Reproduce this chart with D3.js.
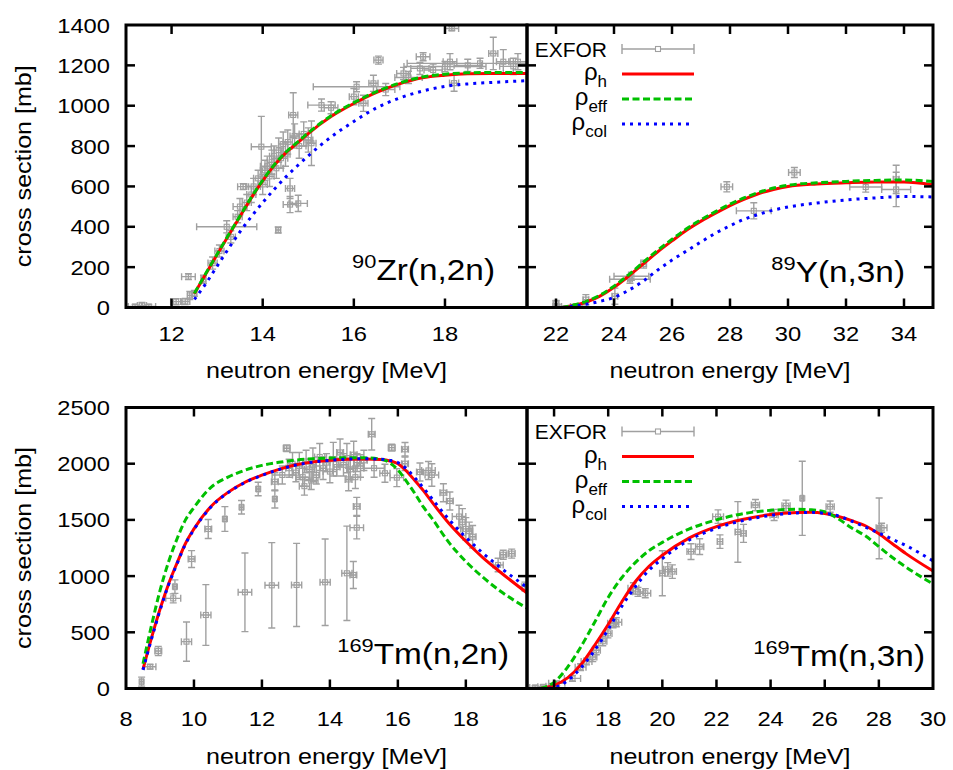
<!DOCTYPE html>
<html><head><meta charset="utf-8">
<script src="https://cdn.jsdelivr.net/npm/d3@7"></script>
<style>body{margin:0;background:#fff} text{font-family:"Liberation Sans",Arial,Helvetica,sans-serif;fill:#000}</style>
</head><body><svg id="c" width="953" height="770"></svg>
<script>
// ---------- DATA ----------
// 90Zr(n,2n)
const zrGrid   = [12.5,12.75,13.0,13.25,13.5,13.75,14.0,14.25,14.5,14.75,15.0,15.5,16.0,16.5,17.0,17.5,18.0,18.5,19.0,19.8];
const zrRhoH   = [68,166,262,357,450,543,627,703,765,813,862,946,1011,1066,1108,1138,1151,1158,1160,1160];
const zrRhoEff = [70,168,264,360,453,546,630,706,768,817,866,950,1015,1070,1112,1142,1156,1163,1165,1165];
const zrRhoCol = [40,118,205,292,375,450,520,585,645,700,752,845,922,990,1038,1072,1096,1108,1115,1124];
// EXFOR rows: [E, sigma, dE, dSigma]
const zrExfor = [
 [11.2,5,0.15,10],[11.5,5,0.15,10],[11.35,10,0.1,15],[12.1,29,0.12,15],[12.3,30,0.1,15],[12.4,60,0.05,20],
 [12.37,153,0.15,15],[12.5,70,0.05,15],[12.7,140,0.05,20],[12.9,220,0.1,30],[13.05,280,0.1,30],[13.21,400,0.66,30],
 [13.3,350,0.1,30],[13.45,450,0.1,30],[13.5,500,0.15,40],[13.57,599,0.12,15],[13.65,520,0.1,40],[13.75,560,0.1,40],
 [13.8,600,0.15,40],[13.97,797,0.22,150],[13.9,640,0.1,40],[14.0,610,0.1,50],[14.05,680,0.1,50],[14.1,700,0.15,50],
 [14.15,650,0.1,50],[14.2,720,0.1,60],[14.25,750,0.1,50],[14.3,690,0.15,50],[14.34,384,0.05,15],[14.35,780,0.1,60],
 [14.4,740,0.15,50],[14.45,810,0.1,60],[14.5,760,0.1,60],[14.55,820,0.1,60],[14.6,510,0.15,40],[14.6,590,0.1,50],
 [14.67,954,0.1,110],[14.7,850,0.1,60],[14.78,516,0.2,40],[14.8,800,0.15,60],[14.9,860,0.1,60],[15.0,830,0.1,60],
 [15.07,814,0.1,110],[15.29,1003,0.3,30],[15.5,990,0.15,30],[16.0,1045,0.1,40],[16.06,1094,0.95,25],[16.21,1012,0.1,40],
 [16.43,1111,0.1,40],[16.54,1226,0.1,20],[16.7,1080,0.2,30],[17.09,1160,0.15,30],[17.2,1140,0.3,30],[17.45,1185,0.2,30],
 [17.52,1243,0.15,20],[17.74,1177,0.2,30],[18.0,1194,0.9,25],[18.11,1218,0.15,40],[18.15,1383,0.15,10],[18.2,1112,0.1,40],
 [18.5,1200,0.3,30],[18.77,1210,1.6,25],[19.06,1259,0.1,80],[19.28,1218,0.15,60],[19.5,1195,0.3,40],[19.6,1218,0.2,40]
];
// 89Y(n,3n)
const yGrid   = [22.2,22.5,23,23.5,24,24.5,25,25.5,26,26.5,27,27.5,28,28.5,29,29.5,30,31,32,33,34,35];
const yRhoH   = [0,8,25,55,100,155,215,275,330,383,428,468,505,537,565,585,600,612,618,622,622,608];
const yRhoEff = [0,9,28,60,106,162,223,283,338,390,435,475,512,544,571,592,606,618,625,630,632,624];
const yRhoCol = [0,5,15,30,50,85,130,185,235,280,325,368,405,438,462,483,498,518,533,543,550,548];
const yExfor = [
 [22.0,20,0.1,15],[22.04,5,0.15,10],[22.7,5,0.2,10],[23.03,39,0.1,25],[24.03,56,0.1,40],[24.55,140,0.7,20],
 [24.6,155,0.6,20],[25.02,215,0.1,20],[27.89,598,0.2,25],[28.82,479,0.6,40],[30.22,669,0.2,25],[32.68,597,0.55,25],
 [33.73,585,0.5,85],[33.73,635,0.1,70]
];
// 169Tm(n,2n)
const tm2Grid   = [8.5,8.75,9.0,9.25,9.5,9.75,10.0,10.5,11.0,11.5,12.0,12.5,13.0,13.5,14.0,14.5,15.0,15.5,15.8,16.0,16.25,16.5,16.75,17.0,17.5,18.0,18.5,19.0,19.8];
const tm2RhoH   = [170,450,705,928,1115,1290,1420,1620,1745,1835,1898,1950,1990,2015,2030,2040,2042,2038,2022,2000,1935,1850,1760,1660,1470,1310,1165,1039,850];
const tm2RhoEff = [220,560,870,1125,1330,1500,1610,1790,1880,1942,1985,2012,2032,2045,2050,2053,2052,2040,2000,1945,1845,1735,1615,1515,1300,1130,990,870,714];
const tm2RhoCol = [165,440,695,920,1108,1285,1415,1615,1742,1832,1896,1948,1988,2014,2030,2040,2044,2040,2028,2010,1955,1875,1785,1690,1505,1345,1205,1080,900];
const tm2Exfor = [
 [8.46,61,0.05,40],[8.71,194,0.17,20],[8.95,334,0.1,40],[9.39,802,0.22,40],[9.44,906,0.05,60],[9.78,417,0.15,175],
 [9.93,1152,0.1,75],[10.35,654,0.15,270],[10.42,1419,0.1,85],[10.91,1508,0.05,110],[11.4,1612,0.05,60],[11.5,856,0.2,350],
 [11.89,1775,0.05,60],[12.29,918,0.2,380],[12.38,1840,0.1,80],[12.38,1686,0.05,80],[12.73,2137,0.1,30],[13.02,921,0.15,370],
 [13.86,945,0.15,385],[14.5,1025,0.15,420],[14.69,1010,0.1,120],[14.79,1431,0.2,100],[14.79,1620,0.1,80],[15.23,2262,0.1,140],
 [15.82,2143,0.1,30],[16.21,2128,0.1,60],
 [12.8,1960,0.1,80],[12.9,2000,0.15,100],[13.0,1920,0.1,80],[13.1,1980,0.1,120],[13.2,1880,0.2,80],[13.3,2020,0.1,100],
 [13.4,1950,0.15,90],[13.5,1990,0.1,150],[13.6,1900,0.1,80],[13.7,2060,0.15,120],[13.8,1960,0.1,100],[13.9,2010,0.1,80],
 [14.0,1930,0.2,100],[14.1,2040,0.1,150],[14.2,1970,0.1,80],[14.3,2100,0.1,120],[14.4,1990,0.15,100],[14.5,2050,0.1,130],
 [14.6,1950,0.1,90],[14.7,2080,0.1,120],[14.75,1880,0.15,100],[14.8,2010,0.1,80],[14.9,1980,0.1,100],[15.0,2030,0.1,90],
 [13.25,1800,0.15,80],[12.6,1900,0.3,80],[13.45,1850,0.2,80],[14.55,1860,0.1,100],[15.3,1960,0.3,80],
 [15.62,1915,0.15,80],[15.97,1876,0.2,80],[16.21,2000,0.1,60],[16.65,1926,0.1,80],[16.9,1940,0.2,80],[17.0,1900,0.2,100],
 [17.34,1742,0.1,80],[17.53,1668,0.1,80],[17.8,1530,0.2,100],[17.9,1480,0.1,120],[18.0,1420,0.15,100],[18.1,1400,0.1,80],
 [18.2,1350,0.1,100],[18.95,1099,0.15,60],[19.1,1190,0.1,40],[19.35,1200,0.1,40],[19.74,906,0.1,40]
];
// 169Tm(n,3n)
const tm3Grid   = [15.5,16.0,16.5,17.0,17.5,18.0,18.5,19.0,19.5,20.0,21.0,22.0,23.0,24.0,25.0,25.5,26.0,26.5,27.0,27.5,28.0,28.5,29.0,30.0];
const tm3RhoH   = [0,28,95,215,385,570,770,950,1085,1185,1340,1440,1505,1548,1566,1568,1557,1530,1493,1448,1376,1288,1200,1045];
const tm3RhoEff = [0,55,190,375,590,810,985,1120,1225,1300,1420,1500,1556,1585,1594,1590,1572,1510,1428,1358,1262,1165,1080,930];
const tm3RhoCol = [0,8,70,185,340,525,730,905,1050,1155,1322,1425,1495,1540,1562,1567,1558,1535,1488,1437,1383,1328,1272,1135];
const tm3Exfor = [
 [15.3,10,0.2,15],[15.6,15,0.2,15],[15.9,20,0.2,20],[16.1,46,0.3,20],[16.68,90,0.3,25],[16.98,190,0.2,30],
 [17.2,240,0.2,30],[17.43,280,0.15,40],[17.56,340,0.15,40],[17.8,420,0.15,40],[17.99,490,0.15,40],[18.18,580,0.2,40],
 [18.3,590,0.2,40],[18.93,891,0.2,50],[19.37,847,0.2,40],[19.1,860,0.2,40],[20.0,1025,0.1,200],[20.2,1060,0.15,60],
 [20.37,1040,0.15,60],[21.06,1218,0.15,70],[21.38,1262,0.15,70],[22.13,1307,0.1,60],[22.06,1529,0.2,60],[22.79,1393,0.1,270],
 [23.0,1380,0.1,80],[23.44,1632,0.15,50],[24.13,1544,0.15,50],[24.57,1626,0.15,50],[25.17,1692,0.05,330],[26.2,1618,0.15,50],
 [28.01,1425,0.05,270],[28.1,1430,0.2,40]
];
// axes
const ticksZrX  = [12,14,16,18];
const ticksYX   = [22,24,26,28,30,32,34];
const ticksTm2X = [8,10,12,14,16,18];
const ticksTm3X = [16,18,20,22,24,26,28,30];
const ticksTopY = [0,200,400,600,800,1000,1200,1400];
const ticksBotY = [0,500,1000,1500,2000,2500];
const legendLabels = ["EXFOR", ["ρ","h"], ["ρ","eff"], ["ρ","col"]];
const xTitle = "neutron energy [MeV]";
const yTitle = "cross section [mb]";

// ---------- DRAWING ----------
const svg = d3.select('#c');
const GRAY = '#a0a0a0';
const styles = {
  h:   {stroke:'#ff0000', dash:null},
  eff: {stroke:'#00c000', dash:'7,3.5'},
  col: {stroke:'#0000ff', dash:'3,5'}
};

function txt(g, x, y, str, size, anchor, sx, rot){
  const t = g.append('text')
    .attr('transform', `translate(${x},${y})` + (rot?` rotate(${rot})`:'') + ` scale(${sx},1)`)
    .attr('font-size', size).attr('text-anchor', anchor).text(str);
  return t;
}

function drawPanel(p){
  const x = d3.scaleLinear().domain(p.xDomain).range([p.L, p.R]);
  const y = d3.scaleLinear().domain(p.yDomain).range([p.B, p.T]);
  const g = svg.append('g');
  svg.append('clipPath').attr('id','clip'+p.id).append('rect')
    .attr('x',p.L).attr('y',p.T).attr('width',p.R-p.L).attr('height',p.B-p.T);
  const dg = g.append('g').attr('clip-path',`url(#clip${p.id})`);

  // EXFOR points
  const eg = dg.append('g').attr('stroke', GRAY).attr('stroke-width',1.4).attr('fill','none');
  p.exfor.forEach(r=>{
    const [e,s,de,ds] = r;
    const cx = x(e), cy = y(s);
    const x1 = x(e-de), x2 = x(e+de), y1 = y(s-ds), y2 = y(s+ds);
    eg.append('line').attr('x1',x1).attr('x2',x2).attr('y1',cy).attr('y2',cy);
    eg.append('line').attr('x1',x1).attr('x2',x1).attr('y1',cy-3.5).attr('y2',cy+3.5);
    eg.append('line').attr('x1',x2).attr('x2',x2).attr('y1',cy-3.5).attr('y2',cy+3.5);
    eg.append('line').attr('x1',cx).attr('x2',cx).attr('y1',y1).attr('y2',y2);
    eg.append('line').attr('x1',cx-3.5).attr('x2',cx+3.5).attr('y1',y1).attr('y2',y1);
    eg.append('line').attr('x1',cx-3.5).attr('x2',cx+3.5).attr('y1',y2).attr('y2',y2);
    eg.append('rect').attr('x',cx-2.5).attr('y',cy-2.5).attr('width',5).attr('height',5).attr('stroke-width',1.1);
  });

  // curves
  const line = d3.line().x(d=>x(d[0])).y(d=>y(d[1])).curve(d3.curveMonotoneX);
  [['h',p.rhoH],['eff',p.rhoEff],['col',p.rhoCol]].forEach(([k,vals])=>{
    const pts = p.grid.map((e,i)=>[e, vals[i]]);
    const path = dg.append('path').attr('d', line(pts)).attr('fill','none')
      .attr('stroke', styles[k].stroke).attr('stroke-width', 3);
    if (styles[k].dash) path.attr('stroke-dasharray', styles[k].dash);
  });

  // ticks (mirrored, inward)
  const tg = g.append('g').attr('stroke','#000').attr('stroke-width',2.5);
  const TL = 9;
  p.xTicks.forEach(v=>{
    const xv = x(v);
    if (xv <= p.L+1 || xv >= p.R-1) return;
    tg.append('line').attr('x1',xv).attr('x2',xv).attr('y1',p.B).attr('y2',p.B-TL);
    tg.append('line').attr('x1',xv).attr('x2',xv).attr('y1',p.T).attr('y2',p.T+TL);
  });
  p.yTicks.forEach(v=>{
    const yv = y(v);
    if (yv >= p.B-1 || yv <= p.T+1) return;
    tg.append('line').attr('x1',p.L).attr('x2',p.L+TL).attr('y1',yv).attr('y2',yv);
    tg.append('line').attr('x1',p.R).attr('x2',p.R-TL).attr('y1',yv).attr('y2',yv);
  });
  // border
  g.append('rect').attr('x',p.L).attr('y',p.T).attr('width',p.R-p.L).attr('height',p.B-p.T)
    .attr('fill','none').attr('stroke','#000').attr('stroke-width',3);

  // tick labels
  const lg = g.append('g');
  p.xTicks.forEach(v=> txt(lg, x(v), p.B+p.xLabOff, String(v), 21, 'middle', 1.13));
  if (p.yLabels){
    p.yTicks.forEach(v=> txt(lg, 110, y(v)+7.5, String(v), 21, 'end', 1.13));
    txt(lg, 31, (p.T+p.B)/2, yTitle, 22, 'middle', 1.14, -90);
  }
  txt(lg, (p.L+p.R)/2, p.B+p.xTitleOff, xTitle, 22, 'middle', 1.14);

  // reaction annotation
  const a = lg.append('text').attr('transform',`translate(${p.annX},${p.annY}) scale(1.15,1)`)
    .attr('text-anchor','end');
  a.append('tspan').attr('font-size',19).attr('dy',-12).text(p.annSup);
  a.append('tspan').attr('font-size',29).attr('dy',12).text(p.annMain);

  // legend
  if (p.legend){
    const rowY = [24,49,74,99].map(d=>p.T+d);
    const tx = p.L+80, lx1 = p.L+95, lx2 = p.L+167;
    legendLabels.forEach((lab,i)=>{
      const yy = rowY[i];
      if (typeof lab === 'string'){
        txt(lg, tx, yy+7.5, lab, 21, 'end', 1.0);
      } else {
        const t = lg.append('text').attr('transform',`translate(${tx},${yy+6})`).attr('text-anchor','end');
        t.append('tspan').attr('font-size',24).text(lab[0]);
        t.append('tspan').attr('font-size',17).attr('dy',7).text(lab[1]);
      }
    });
    // EXFOR sample
    const sg = lg.append('g').attr('stroke',GRAY).attr('stroke-width',1.4).attr('fill','none');
    const y0 = rowY[0], xm = (lx1+lx2)/2;
    sg.append('line').attr('x1',lx1).attr('x2',lx2).attr('y1',y0).attr('y2',y0);
    sg.append('line').attr('x1',lx1).attr('x2',lx1).attr('y1',y0-5).attr('y2',y0+5);
    sg.append('line').attr('x1',lx2).attr('x2',lx2).attr('y1',y0-5).attr('y2',y0+5);
    sg.append('rect').attr('x',xm-2.5).attr('y',y0-2.5).attr('width',5).attr('height',5).attr('fill','#fff').attr('stroke-width',1.1);
    ['h','eff','col'].forEach((k,i)=>{
      const l = lg.append('line').attr('x1',lx1).attr('x2',lx2).attr('y1',rowY[i+1]).attr('y2',rowY[i+1])
        .attr('stroke',styles[k].stroke).attr('stroke-width',3);
      if (styles[k].dash) l.attr('stroke-dasharray',styles[k].dash);
    });
  }
}

const TOP = {T:25, B:307.5}, BOT = {T:407.5, B:688.5};
const LEFT = {L:126, R:527}, RIGHT = {L:527, R:933};

drawPanel(Object.assign({id:'zr', xDomain:[11,19.8], yDomain:[0,1400], xTicks:ticksZrX, yTicks:ticksTopY,
  grid:zrGrid, rhoH:zrRhoH, rhoEff:zrRhoEff, rhoCol:zrRhoCol, exfor:zrExfor, yLabels:true, legend:false,
  annX:495, annY:280, annSup:'90', annMain:'Zr(n,2n)', xLabOff:33, xTitleOff:70}, TOP, LEFT));
drawPanel(Object.assign({id:'y', xDomain:[21,35], yDomain:[0,1400], xTicks:ticksYX, yTicks:ticksTopY,
  grid:yGrid, rhoH:yRhoH, rhoEff:yRhoEff, rhoCol:yRhoCol, exfor:yExfor, yLabels:false, legend:true,
  annX:905, annY:282, annSup:'89', annMain:'Y(n,3n)', xLabOff:33, xTitleOff:70}, TOP, RIGHT));
drawPanel(Object.assign({id:'tm2', xDomain:[8,19.8], yDomain:[0,2500], xTicks:ticksTm2X, yTicks:ticksBotY,
  grid:tm2Grid, rhoH:tm2RhoH, rhoEff:tm2RhoEff, rhoCol:tm2RhoCol, exfor:tm2Exfor, yLabels:true, legend:false,
  annX:509, annY:664, annSup:'169', annMain:'Tm(n,2n)', xLabOff:37, xTitleOff:75}, BOT, LEFT));
drawPanel(Object.assign({id:'tm3', xDomain:[15,30], yDomain:[0,2500], xTicks:ticksTm3X, yTicks:ticksBotY,
  grid:tm3Grid, rhoH:tm3RhoH, rhoEff:tm3RhoEff, rhoCol:tm3RhoCol, exfor:tm3Exfor, yLabels:false, legend:true,
  annX:925, annY:666, annSup:'169', annMain:'Tm(n,3n)', xLabOff:37, xTitleOff:75}, BOT, RIGHT));
</script>
</body></html>
